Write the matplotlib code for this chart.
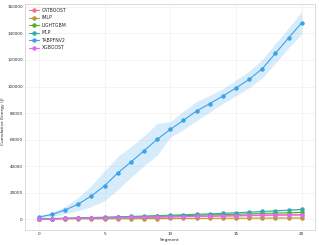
import matplotlib.pyplot as plt
import seaborn as sns
import numpy as np

segments = list(range(21))
models = ['CATBOOST', 'IMLP', 'LIGHTGBM', 'MLP', 'TABPFNV2', 'XGBOOST']

energy = {
    'CATBOOST': [80, 220, 380, 540, 700, 860, 1020, 1180, 1340, 1500, 1660, 1820, 1980, 2140, 2300, 2460, 2620, 2780, 2940, 3050, 3150],
    'IMLP': [40, 80, 120, 160, 200, 240, 280, 320, 360, 400, 440, 480, 520, 560, 600, 640, 680, 720, 760, 790, 820],
    'LIGHTGBM': [100, 300, 500, 700, 900, 1100, 1350, 1600, 1850, 2100, 2350, 2600, 2850, 3100, 3350, 3600, 3900, 4200, 4500, 4750, 5000],
    'MLP': [150, 400, 650, 900, 1150, 1400, 1700, 2000, 2300, 2600, 2900, 3250, 3600, 3950, 4350, 4750, 5200, 5700, 6200, 6750, 7300],
    'TABPFNV2': [1500, 3500, 6800, 11300, 17400, 25100, 34700, 43000, 51500, 60100, 67600, 74500, 81500, 87000, 92800, 98900, 105400, 113400, 125000, 136600, 148100],
    'XGBOOST': [100, 260, 420, 580, 740, 900, 1070, 1240, 1410, 1580, 1750, 1920, 2090, 2260, 2430, 2600, 2770, 2930, 3080, 3200, 3300],
}
spread = {
    'CATBOOST': [20, 40, 60, 80, 100, 120, 140, 160, 180, 200, 220, 240, 260, 280, 300, 320, 340, 360, 380, 400, 420],
    'IMLP': [30, 60, 90, 120, 150, 180, 210, 240, 270, 300, 330, 360, 390, 420, 450, 480, 510, 540, 570, 600, 630],
    'LIGHTGBM': [20, 40, 60, 80, 100, 120, 140, 160, 180, 200, 220, 240, 260, 280, 300, 320, 340, 360, 380, 400, 420],
    'MLP': [30, 60, 90, 120, 150, 180, 210, 240, 270, 300, 330, 360, 390, 420, 450, 480, 510, 540, 570, 600, 630],
    'TABPFNV2': [800, 1500, 2700, 5000, 8000, 11300, 12500, 11500, 11300, 12000, 5800, 7000, 7300, 6300, 5600, 6000, 6300, 7000, 7500, 7500, 8500],
    'XGBOOST': [20, 40, 60, 80, 100, 120, 140, 160, 180, 200, 220, 240, 260, 280, 300, 320, 340, 360, 380, 400, 420],
}

sns.set_theme(style='whitegrid')
colors = sns.color_palette('husl', len(models))

fig = plt.figure(figsize=(3.19, 2.45), dpi=100)
ax = fig.add_axes([0.078, 0.061, 0.909, 0.923])

for model, color in zip(models, colors):
    y = np.array(energy[model])
    s = np.array(spread[model])
    ax.fill_between(segments, y - s, y + s, color=color, alpha=0.2, linewidth=0)
    ax.plot(segments, y, marker='o', markersize=2.2, linewidth=0.8, color=color, label=model)

ax.set_xlim(-1.06, 21.0)
ax.set_ylim(-8300, 162300)
ax.set_xticks([0, 5, 10, 15, 20])
ax.set_yticks(range(0, 160001, 20000))
ax.tick_params(labelsize=3.0, pad=1.5, length=0)
ax.set_xlabel('Segment', fontsize=3.2, labelpad=1.5)
ax.set_ylabel('Cumulative Energy (J)', fontsize=3.2)
ax.yaxis.set_label_coords(-0.069, 0.48)
for sp in ax.spines.values():
    sp.set_linewidth(0.5)
    sp.set_color('#cccccc')
ax.grid(linewidth=0.4, color='#ececec')
ax.legend(loc='upper left', fontsize=3.3, frameon=False, handlelength=2.2,
          labelspacing=0.55, borderaxespad=0.4, handletextpad=0.6)

fig.savefig('out.png', dpi=100)
